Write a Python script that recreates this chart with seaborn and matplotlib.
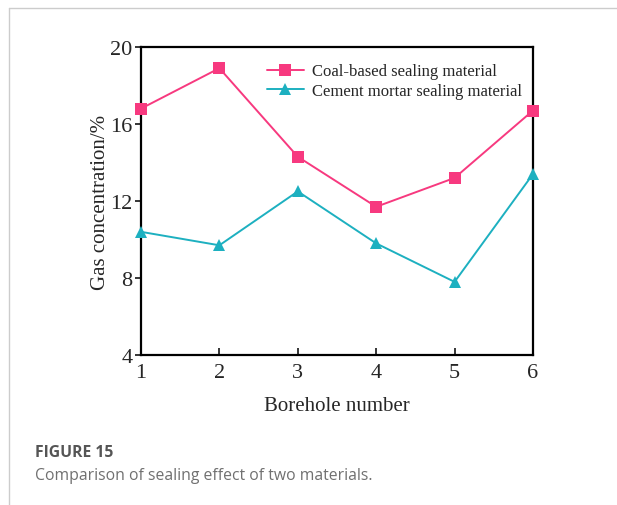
import numpy as np
import pandas as pd
import seaborn as sns
from matplotlib import pyplot as plt
from matplotlib.lines import Line2D

boreholes = [1, 2, 3, 4, 5, 6]
coal_based = [16.8, 18.9, 14.3, 11.7, 13.2, 16.7]
cement_mortar = [10.4, 9.7, 12.5, 9.8, 7.8, 13.4]
series_names = ["Coal-based sealing material", "Cement mortar sealing material"]

df = pd.DataFrame({
    "Borehole": boreholes * 2,
    "Gas": coal_based + cement_mortar,
    "Material": [series_names[0]] * 6 + [series_names[1]] * 6,
})

sns.set_style("ticks")
plt.rcParams['font.family'] = ['Liberation Serif', 'DejaVu Serif']

fig = plt.figure(figsize=(6.17, 5.06), dpi=100)
ax = fig.add_axes([0.2285, 0.2964, 0.6353, 0.6087])

palette = {series_names[0]: "#F7397F", series_names[1]: "#1DB0C0"}
markers = {series_names[0]: "s", series_names[1]: "^"}
sns.lineplot(data=df, x="Borehole", y="Gas", hue="Material", style="Material",
             palette=palette, markers=markers, dashes=False, markersize=8,
             linewidth=1.4, markeredgewidth=0, ax=ax)
for ln in ax.lines:
    ln.set_clip_on(False)
    ln.set_zorder(5)

ax.set_xlim(1, 6)
ax.set_ylim(4, 20)
ax.set_xticks(boreholes)
ax.set_yticks([4, 8, 12, 16, 20])
ax.tick_params(axis="x", direction="in", length=5, width=1.3, labelsize=16, pad=6)
ax.tick_params(axis="y", direction="out", length=4, width=1.3, labelsize=16, pad=2)
for s in ax.spines.values():
    s.set_linewidth(1.6)
    s.set_color("black")

ax.set_xlabel("Borehole number", fontsize=15, labelpad=10)
ax.set_ylabel("Gas concentration/%", fontsize=15, labelpad=0)

leg = ax.legend(loc="upper right", frameon=False, fontsize=12, handlelength=2.2,
                borderaxespad=0.25, handletextpad=0.5, labelspacing=0.2,
                bbox_to_anchor=(1.0, 0.982))

# caption and page borders
fig.text(0.057, 0.105, "FIGURE 15", fontsize=11.3, fontweight="bold", color="#555555",
         va="center", family=["Open Sans", "DejaVu Sans"])
fig.text(0.057, 0.059, "Comparison of sealing effect of two materials.", fontsize=11.3,
         color="#707070", va="center", family=["Open Sans", "DejaVu Sans"])
fig.add_artist(Line2D([0.0146, 1.0], [0.982, 0.982], color="#cccccc", linewidth=1))
fig.add_artist(Line2D([0.0146, 0.0146], [0.0, 0.982], color="#cccccc", linewidth=1))

plt.savefig("out.png", dpi=100)
